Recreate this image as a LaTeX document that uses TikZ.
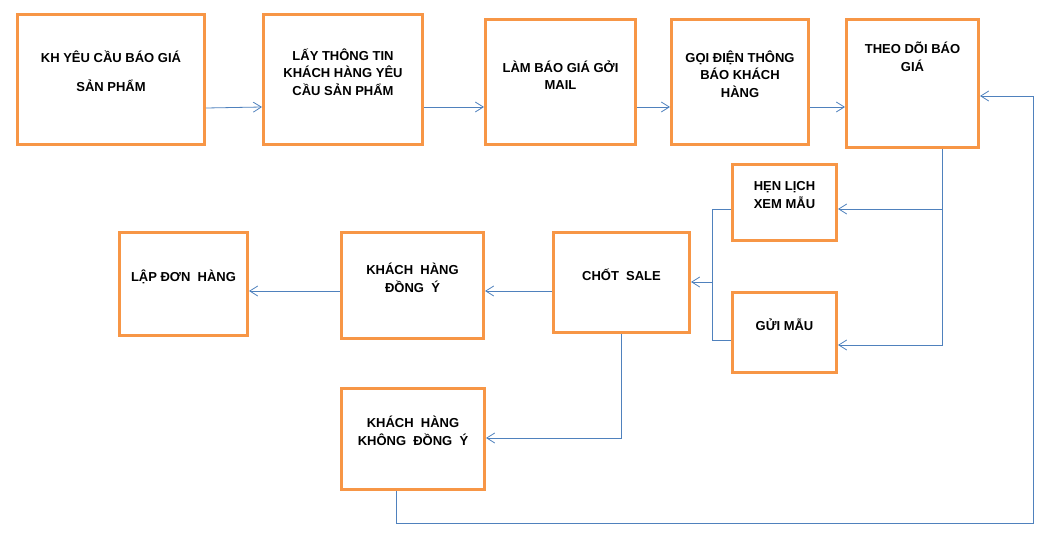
\documentclass[tikz,border=0pt]{standalone}
\usepackage{fontspec}
\setmainfont{Liberation Sans}
\usetikzlibrary{arrows.meta, positioning}
\definecolor{boxorange}{RGB}{247,150,70}
\definecolor{linkblue}{RGB}{79,129,189}

\begin{document}
\begin{tikzpicture}[x=1pt, y=-1pt,
		box/.style={draw=boxorange, line width=3pt, inner sep=0pt},
		txt/.style={align=center, font=\fontsize{13}{17.5}\selectfont\bfseries},
		wire/.style={draw=linkblue, line width=0.8pt},
		link/.style={wire, -{Straight Barb[length=8pt, width=10pt]}}]
				\useasboundingbox (0,0) rectangle (1057,548);

				\node[box, minimum width=187pt, minimum height=130pt] (req) at (111,79.5) {};
				\node[txt] (reqt) at (111,71) {KH YÊU CẦU BÁO GIÁ\\[12pt]SẢN PHẨM};

				\node[box, minimum width=159pt, minimum height=130pt] (info) at (343,79.5) {};
				\node[txt] (infot) at (343,72) {LẤY THÔNG TIN\\KHÁCH HÀNG YÊU\\CẦU SẢN PHẨM};

				\node[box, minimum width=150pt, minimum height=125pt] (quote) at (560.5,82) {};
				\node[txt] (quotet) at (560.5,75) {LÀM BÁO GIÁ GỞI\\MAIL};

				\node[box, minimum width=137pt, minimum height=125pt] (call) at (740,82) {};
				\node[txt] (callt) at (740,74) {GỌI ĐIỆN THÔNG\\BÁO KHÁCH\\HÀNG};

				\node[box, minimum width=132pt, minimum height=128pt] (track) at (912.5,83.5) {};
				\node[txt] (trackt) at (912.5,57) {THEO DÕI BÁO\\GIÁ};

				\node[box, minimum width=104pt, minimum height=76pt] (visit) at (784.5,202.5) {};
				\node[txt] (visitt) at (784.5,195) {HẸN LỊCH\\XEM MẪU};

				\node[box, minimum width=104pt, minimum height=80pt] (sample) at (784.5,332.5) {};
				\node[txt] (samplet) at (784.5,325) {GỬI MẪU};

				\node[box, minimum width=136pt, minimum height=100pt] (close) at (621.5,282.5) {};
				\node[txt] (closet) at (621.5,275) {CHỐT\ \ SALE};

				\node[box, minimum width=142pt, minimum height=106pt] (agree) at (412.5,285.5) {};
				\node[txt] (agreet) at (412.5,278) {KHÁCH\ \ HÀNG\\ĐỒNG\ \ Ý};

				\node[box, minimum width=128pt, minimum height=103pt] (order) at (183.5,284) {};
				\node[txt] (ordert) at (183.5,277) {LẬP ĐƠN\ \ HÀNG};

				\node[box, minimum width=143pt, minimum height=101pt] (reject) at (413,439) {};
				\node[txt] (rejectt) at (413,431) {KHÁCH\ \ HÀNG\\KHÔNG\ \ ĐỒNG\ \ Ý};

				\draw[link] (req.east |- 0,108) -- (info.west |- 0,107);
				\draw[link] (info.east |- 0,107) -- (quote.west |- 0,107);
				\draw[link] (quote.east |- 0,107) -- (call.west |- 0,107);
				\draw[link] (call.east |- 0,107) -- (track.west |- 0,107);

				\draw[link] (track.south -| 942,0) |- (visit.east |- 0,209);
				\draw[link] (track.south -| 942,0) |- (sample.east |- 0,345);

				\coordinate (join) at (712,282);
				\draw[wire] (visit.west |- 0,209) -| (join);
				\draw[wire] (sample.west |- 0,340) -| (join);
				\draw[link] (join) -- (close.east |- join);

				\draw[link] (close.west |- 0,291) -- (agree.east |- 0,291);
				\draw[link] (agree.west |- 0,291) -- (order.east |- 0,291);
				\draw[link] (close.south) |- (reject.east |- 0,438);

				\draw[link] (reject.south -| 396,0) |- (1033,523) |- (track.east |- 0,96);
\end{tikzpicture}
\end{document}
